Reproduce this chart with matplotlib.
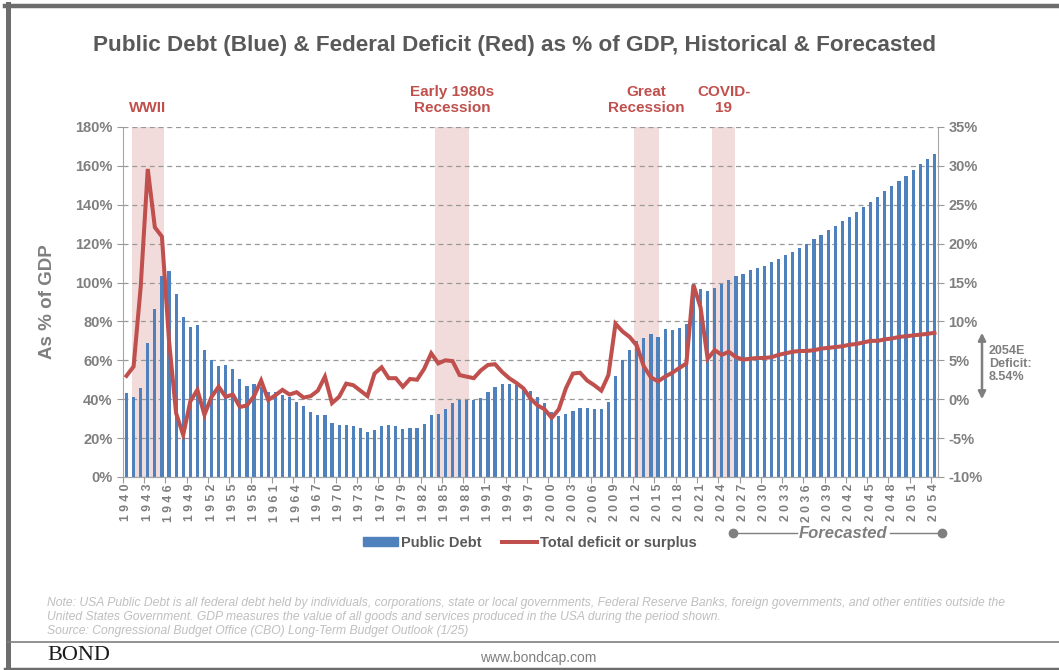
import numpy as np
import matplotlib
matplotlib.use('Agg')
import matplotlib.pyplot as plt
from matplotlib.lines import Line2D
from matplotlib.patches import Patch

plt.rcParams['font.family'] = ['Liberation Sans', 'DejaVu Sans']

# データ
years = list(range(1940, 2055))
public_debt = [
    43.4, 41.3, 45.6, 69.1, 86.2, 103.6, 106.1, 94.0, 82.5, 77.2,
    78.4, 65.3, 60.0, 57.1, 57.8, 55.7, 50.2, 46.8, 47.7, 46.5,
    43.9, 43.6, 42.2, 41.0, 38.4, 36.5, 33.4, 31.7, 31.7, 27.9,
    26.7, 26.7, 26.2, 25.0, 23.0, 24.2, 26.4, 26.7, 26.2, 24.5,
    25.0, 25.0, 27.4, 31.7, 32.6, 35.0, 38.1, 39.4, 39.6, 39.4,
    40.5, 43.9, 46.5, 47.7, 47.7, 47.1, 46.5, 44.2, 41.3, 37.9,
    33.3, 31.4, 32.4, 34.1, 35.5, 35.5, 35.0, 35.0, 38.7, 52.0,
    60.4, 65.3, 70.0, 71.7, 73.4, 72.0, 76.0, 75.5, 76.6, 78.7,
    99.0, 96.9, 95.7, 97.2, 99.1, 101.5, 103.4, 104.4, 106.3, 107.5,
    108.7, 110.4, 112.1, 114.2, 115.7, 118.0, 120.0, 122.3, 124.3, 126.9,
    129.0, 131.5, 133.9, 136.5, 139.0, 141.6, 144.0, 147.1, 149.5, 152.4,
    155.0, 157.9, 161.0, 163.4, 166.3,
]
deficit = [
    3.0, 4.2, 14.4, 29.6, 22.1, 20.9, 7.5, -1.8, -4.6, -0.3,
    1.2, -2.0, 0.3, 1.6, 0.3, 0.6, -1.0, -0.8, 0.4, 2.4,
    -0.1, 0.5, 1.2, 0.6, 0.9, 0.2, 0.4, 1.1, 2.9, -0.5,
    0.3, 2.0, 1.8, 1.1, 0.4, 3.3, 4.1, 2.7, 2.7, 1.6,
    2.6, 2.5, 3.9, 5.9, 4.6, 5.0, 4.9, 3.1, 2.9, 2.7,
    3.7, 4.4, 4.5, 3.5, 2.7, 2.1, 1.4, 0.1, -0.8, -1.3,
    -2.4, -1.3, 1.4, 3.3, 3.4, 2.4, 1.8, 1.1, 3.1, 9.7,
    8.7, 8.0, 6.9, 4.2, 2.8, 2.3, 2.9, 3.4, 4.0, 4.6,
    14.7, 11.8, 5.2, 6.3, 5.7, 6.1, 5.4, 5.1, 5.2, 5.3,
    5.3, 5.4, 5.7, 5.9, 6.1, 6.2, 6.2, 6.3, 6.5, 6.6,
    6.7, 6.8, 7.0, 7.1, 7.3, 7.5, 7.5, 7.7, 7.8, 8.0,
    8.1, 8.2, 8.3, 8.4, 8.54,
]
# 景気後退などの期間 (年)
event_labels = ['WWII', 'Early 1980s\nRecession', 'Great\nRecession', 'COVID-\n19']
event_spans = [(1940.8, 1945.3), (1983.5, 1988.35), (2011.6, 2015.1), (2022.6, 2025.9)]
left_ticks = [0, 20, 40, 60, 80, 100, 120, 140, 160, 180]
right_ticks = [-10, -5, 0, 5, 10, 15, 20, 25, 30, 35]

BLUE = '#4f81bd'
RED = '#c0504d'
SHADE = '#f2dcdb'
GRAY = '#7f7f7f'
DARK = '#595959'

fig = plt.figure(figsize=(10.59, 6.70), dpi=100)
ax = fig.add_axes([0.1161, 0.2881, 0.7696, 0.5224])
bx = ax.twinx()

x = np.arange(len(years))

# 影の期間
for (s, e), lab in zip(event_spans, event_labels):
    ax.axvspan(s - years[0], e - years[0], color=SHADE, zorder=0, lw=0)
    ax.text((s + e) / 2 - years[0], 1.035, lab, transform=ax.get_xaxis_transform(),
            ha='center', va='bottom', color=RED, fontsize=11, fontweight='bold',
            linespacing=1.15)

ax.bar(x, public_debt, width=0.45, color=BLUE, zorder=2, label='Public Debt')
bx.plot(x, deficit, color=RED, lw=2.9, zorder=3, solid_joinstyle='miter',
        label='Total deficit or surplus')

ax.set_xlim(-0.5, len(years) - 0.5)
ax.set_ylim(0, 180)
bx.set_ylim(-10, 35)
ax.set_yticks(left_ticks)
ax.set_yticklabels(['{}%'.format(v) for v in left_ticks])
bx.set_yticks(right_ticks)
bx.set_yticklabels(['{}%'.format(v) for v in right_ticks])

ax.yaxis.grid(True, color='#999999', linestyle=(0, (4, 3)), lw=0.9, zorder=1)
ax.set_axisbelow(True)

# x軸 (3年ごと)
ax.set_xticks(np.arange(-0.5, len(years), 3))
ax.set_xticklabels([])
ax.set_xticks(x[::3], minor=True)
ax.set_xticklabels([' '.join(str(y)) for y in years[::3]], minor=True,
                   rotation=90, fontsize=8.8, fontweight='bold', color=GRAY)
ax.tick_params(axis='x', which='major', length=4, color='#999999')
ax.tick_params(axis='x', which='minor', length=0, pad=5)

for a in (ax, bx):
    a.tick_params(axis='y', length=4, color='#999999', labelsize=10.5,
                  labelcolor=GRAY)
    for t in a.get_yticklabels():
        t.set_fontweight('bold')
    a.spines['top'].set_visible(False)
    for sp in ('left', 'right', 'bottom'):
        a.spines[sp].set_color('#a6a6a6')
bx.spines['left'].set_visible(False)
ax.spines['right'].set_visible(False)

ax.set_ylabel('As % of GDP', fontsize=13.5, fontweight='bold', color=GRAY,
              labelpad=14)

fig.text(0.486, 1 - 45 / 670, 'Public Debt (Blue) & Federal Deficit (Red) as % of GDP, Historical & Forecasted',
         ha='center', va='center', fontsize=16.2, fontweight='bold', color=DARK)

# 凡例
handles = [Patch(color=BLUE), Line2D([], [], color=RED, lw=2.9)]
fig.legend(handles, ['Public Debt', 'Total deficit or surplus'], loc='center',
           bbox_to_anchor=(530 / 1059, 1 - 543 / 670), ncol=2, frameon=False,
           handlelength=2.4, handleheight=0.6, handletextpad=0.2, columnspacing=1.4,
           prop={'size': 10.5, 'weight': 'bold'}, labelcolor=DARK)

# Forecasted
fy = 1 - 533 / 670
fig.add_artist(Line2D([733 / 1059, 797 / 1059], [fy, fy], color=GRAY, lw=1))
fig.add_artist(Line2D([890 / 1059, 942 / 1059], [fy, fy], color=GRAY, lw=1))
fig.add_artist(Line2D([733 / 1059, 942 / 1059], [fy, fy], color=GRAY, lw=0,
                      marker='o', markersize=6))
fig.text(843 / 1059, fy, 'Forecasted', ha='center', va='center', fontsize=12,
         fontweight='bold', style='italic', color=GRAY)

# 2054E 赤字の矢印
bx.annotate('', xy=(982 / 1059, 0), xytext=(982 / 1059, deficit[-1]),
            xycoords=('figure fraction', 'data'), textcoords=('figure fraction', 'data'),
            arrowprops=dict(arrowstyle='<|-|>', color=GRAY, lw=1.8,
                            mutation_scale=11, shrinkA=0, shrinkB=0))
fig.text(989 / 1059, 1 - 364 / 670, '2054E\nDeficit:\n{:.2f}%'.format(deficit[-1]),
         ha='left', va='center', fontsize=9, fontweight='bold', color=GRAY,
         linespacing=1.15)

# 注記
notes = ('Note: USA Public Debt is all federal debt held by individuals, corporations, state or local governments, '
         'Federal Reserve Banks, foreign governments, and other entities outside the\n'
         'United States Government. GDP measures the value of all goods and services produced in the USA '
         'during the period shown.\n'
         'Source: Congressional Budget Office (CBO) Long-Term Budget Outlook (1/25)')
fig.text(47 / 1059, 1 - 597 / 670, notes, ha='left', va='top', fontsize=8.7,
         style='italic', color='#bfbfbf', linespacing=1.2)

# 枠線
fig.add_artist(Line2D([5 / 1059, 1], [1 - 6 / 670] * 2, color='#6d6d6d', lw=3.2))
fig.add_artist(Line2D([8 / 1059] * 2, [1 - 4 / 670, 0], color='#6d6d6d', lw=3.6))
fig.add_artist(Line2D([5 / 1059, 1], [1 - 668.5 / 670] * 2, color='#6d6d6d', lw=2.5))
fig.add_artist(Line2D([8 / 1059, 1], [1 - 641.5 / 670] * 2, color='#7f7f7f', lw=1.2))

fig.text(47 / 1059, 1 - 656 / 670, 'BOND', ha='left', va='center', fontsize=16,
         family=['Liberation Serif', 'DejaVu Serif'], color='#1a1a1a')
fig.text(538 / 1059, 1 - 658 / 670, 'www.bondcap.com', ha='center', va='center',
         fontsize=10, color=GRAY)

fig.savefig('out.png', dpi=100)
